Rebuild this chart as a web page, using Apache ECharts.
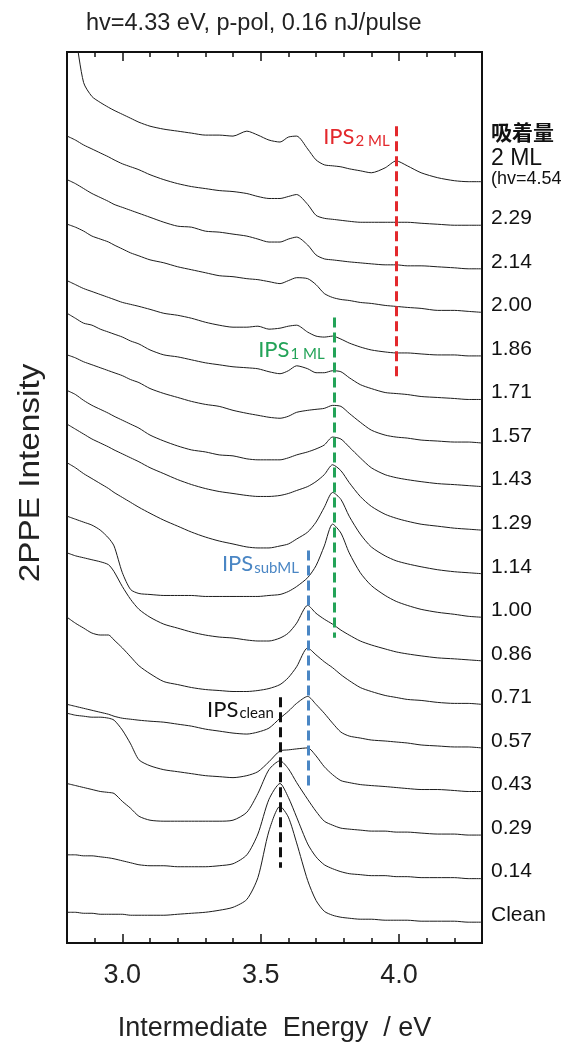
<!DOCTYPE html>
<html>
<head>
<meta charset="utf-8">
<script src="https://cdn.jsdelivr.net/npm/echarts@6/dist/echarts.min.js"></script>
<style>
  html, body { margin: 0; padding: 0; background: #fff; }
  #chart { width: 573px; height: 1047px; }
</style>
</head>
<body>
<div id="chart"></div>
<script>
// energy grid (eV), shared by every spectrum
var energy = [2.80, 2.83, 2.86, 2.89, 2.92, 2.95, 2.97, 3.00, 3.03, 3.06,
  3.10, 3.15, 3.20, 3.25, 3.30, 3.35, 3.40, 3.45, 3.49, 3.53,
  3.57, 3.60, 3.63, 3.67, 3.70, 3.73, 3.76, 3.79, 3.82, 3.86,
  3.90, 3.95, 3.99, 4.03, 4.08, 4.14, 4.20, 4.25, 4.30];

// coverage labels, top to bottom
var coverage = ['2 ML', '2.29', '2.14', '2.00', '1.86', '1.71', '1.57', '1.43', '1.29',
  '1.14', '1.00', '0.86', '0.71', '0.57', '0.43', '0.29', '0.14', 'Clean'];

// 2PPE intensity of each spectrum above its own high-energy baseline
var s2ML = [200,150,100,86,80,75,72,68,64,60, 56,53,51,49,47,47,46,51,47,42, 40,45,46,33,22,17,16,15,13,11, 9,14,21,16,9,4,1,0,0];
var s229 = [90,86,81,77,73,69,66,62,59,56, 51,46,42,39,37,35,34,32,29,27, 27,29,31,21,10,7,6,5,4,3, 3,3,3,3,2,1,0,0,0];
var s214 = [90,86,81,76,72,68,65,62,59,56, 52,47,43,42,38,37,35,33,30,27, 27,30,32,24,14,10,9,8,7,6, 5,4,4,3,3,2,1,0,0];
var s200 = [89,86,82,77,74,71,68,64,60,57, 53,50,46,43,40,37,36,34,33,31, 29,32,35,34,28,19,15,13,12,10, 9,7,6,5,4,2,2,1,0];
var s186 = [76,72,68,65,62,59,57,54,52,50, 47,43,41,38,34,31,29,29,30,27, 28,30,31,24,20,19,20,17,13,9, 6,4,3,3,2,1,1,0,0];
var s171 = [87,82,77,75,71,68,66,63,59,56, 50,45,43,40,37,35,33,32,31,28, 26,29,34,31,27,27,29,28,22,15, 11,7,6,5,3,2,1,0,0];
var s157 = [89,86,82,79,76,73,71,68,64,61, 55,50,46,42,39,37,33,30,28,26, 25,27,31,33,34,35,38,37,30,21, 13,8,6,5,3,2,1,1,0];
var s143 = [97,93,87,82,78,74,71,67,63,59, 52,46,41,37,35,32,31,28,27,27, 27,29,32,35,38,42,50,48,40,29, 19,12,9,7,5,3,2,1,0];
var s129 = [107,102,97,92,88,84,81,77,73,69, 63,57,51,46,42,39,37,35,34,34, 35,37,40,44,49,56,66,60,48,34, 24,16,12,9,6,4,2,1,0];
var s114 = [112,107,101,96,91,86,82,77,72,67, 61,54,48,42,37,33,30,27,26,26, 28,30,35,42,52,67,82,75,58,40, 27,18,13,10,7,4,2,1,0];
var s100 = [102,99,96,93,88,80,72,45,28,24, 23,22,22,22,21,21,21,21,21,22, 23,26,31,40,52,72,94,85,65,45, 32,22,16,12,8,5,3,1,0];
var s086 = [109,106,104,102,100,97,90,75,62,52, 44,37,33,29,26,24,23,21,20,20, 23,28,38,56,48,42,37,31,26,20, 16,12,9,7,5,3,2,1,0];
var s071 = [88,82,77,72,70,70,65,57,48,39, 31,23,20,17,15,14,13,13,14,16, 20,27,38,57,50,43,37,30,24,17, 13,9,7,5,4,2,1,1,0];
var s057 = [44,42,40,38,36,34,32,30,29,28, 27,26,24,22,19,17,15,14,16,20, 30,37,45,52,44,35,25,16,12,10, 8,7,6,5,3,2,1,1,0];
var s043 = [79,77,76,75,75,74,72,62,48,32, 26,22,20,18,16,15,14,16,20,30, 41,42,43,44,36,25,17,11,9,7, 6,5,4,3,2,2,1,0,0];
var s029 = [52,50,48,46,44,43,42,34,27,19, 15,14,14,14,14,14,15,23,42,66, 75,67,53,36,24,14,10,7,6,5, 4,4,3,3,2,1,1,0,0];
var s014 = [24,24,23,23,22,21,20,18,16,14, 13,13,12,12,12,13,15,24,45,80, 96,82,62,35,22,14,10,7,5,4, 3,3,2,2,1,1,1,0,0];
var sClean = [10,10,9,9,8,8,8,8,7,7, 7,7,8,9,10,12,15,23,45,92, 117,106,80,42,22,11,7,5,4,3, 3,2,2,2,1,1,1,0,0];

var traces = [s2ML, s229, s214, s200, s186, s171, s157, s143, s129,
  s114, s100, s086, s071, s057, s043, s029, s014, sClean];

// image-potential-state guides: energy and the vertical span they cover
var ipsName = ['2 ML', '1 ML', 'subML', 'clean'];
var ipsEnergy = [3.99, 3.765, 3.672, 3.572];
var ipsFrom = [824, 631, 396, 248];
var ipsTo = [569, 308, 159, 76];
var ipsLabelAt = [[3.846, 813], [3.611, 598], [3.499, 382], [3.427, 235]];
var ipsColor = ['#e3282c', '#23a358', '#4a86c4', '#111111'];

var stackStep = 43.95;   // vertical shift between neighbouring spectra
var stackBase = 21;

var chart = echarts.init(document.getElementById('chart'));

var series = traces.map(function (vals, k) {
  var shift = stackBase + stackStep * (traces.length - 1 - k);
  var endLabel = {
    show: true,
    formatter: '{a}',
    color: '#111',
    fontSize: 21,
    fontFamily: 'Liberation Sans, Arial, sans-serif',
    distance: 9,
    offset: [0, -7]
  };
  if (k === 0) {
    endLabel = {
      show: true,
      distance: 9,
      offset: [0, -30],
      formatter: '{c|吸着量}\n{a|2 ML}\n{b|(hv=4.54}',
      rich: {
        c: { fontSize: 21, fontWeight: 'bold', color: '#111', lineHeight: 30,
             fontFamily: 'Noto Sans CJK JP, sans-serif' },
        a: { fontSize: 23, color: '#111', lineHeight: 24,
             fontFamily: 'Liberation Sans, Arial, sans-serif' },
        b: { fontSize: 18, color: '#111', lineHeight: 16,
             fontFamily: 'Liberation Sans, Arial, sans-serif' }
      }
    };
  }
  return {
    name: coverage[k],
    type: 'line',
    symbol: 'none',
    silent: true,
    clip: true,
    smooth: 0.25,
    lineStyle: { color: '#1c1c1c', width: 1 },
    data: energy.map(function (e, j) { return [e, shift + vals[j]]; }),
    endLabel: endLabel
  };
});

series.push({
  name: 'IPS',
  type: 'line',
  data: [],
  silent: true,
  markLine: {
    symbol: 'none',
    silent: true,
    label: { show: false },
    data: ipsEnergy.map(function (e, i) {
      return [
        { coord: [e, ipsFrom[i]],
          lineStyle: { color: ipsColor[i], type: [10, 5], width: 3 } },
        { coord: [e, ipsTo[i]] }
      ];
    })
  },
  markPoint: {
    symbol: 'rect',
    symbolSize: 1,
    itemStyle: { color: 'rgba(0,0,0,0)' },
    silent: true,
    data: ipsLabelAt.map(function (p, i) {
      return {
        coord: p,
        label: {
          show: true,
          position: 'inside',
          formatter: '{m|IPS}{s|' + ipsName[i] + '}',
          rich: {
            m: { fontSize: 22, lineHeight: 22, verticalAlign: 'top', color: ipsColor[i],
                 fontFamily: 'Lato, Open Sans, sans-serif' },
            s: { fontSize: 15, lineHeight: 15, verticalAlign: 'bottom', padding: [13, 0, 0, 1],
                 color: ipsColor[i], fontFamily: 'Lato, Open Sans, sans-serif' }
          }
        }
      };
    })
  }
});

function tickAxis(pos, major) {
  var ax = {
    type: 'value', min: 2.8, max: 4.3, position: pos,
    axisLine: { show: false },
    splitLine: { show: false },
    axisLabel: { show: false },
    axisTick: { show: true, inside: true, length: major ? 9 : 5,
                lineStyle: { color: '#111', width: 1.5 } }
  };
  if (major) {
    ax.axisTick.customValues = [3.0, 3.5, 4.0];
  } else {
    ax.interval = 0.1;
  }
  return ax;
}

var xMain = tickAxis('bottom', true);
xMain.axisLabel = {
  show: true, customValues: [3.0, 3.5, 4.0], margin: 19,
  formatter: function (v) { return v.toFixed(1); },
  fontSize: 27, color: '#222', fontFamily: 'Liberation Sans, Arial, sans-serif'
};
xMain.name = 'Intermediate  Energy  / eV';
xMain.nameLocation = 'middle';
xMain.nameGap = 72;
xMain.nameTextStyle = { fontSize: 27, color: '#222', fontFamily: 'Liberation Sans, Arial, sans-serif' };

var option = {
  animation: false,
  backgroundColor: '#fff',
  title: {
    text: 'hv=4.33 eV, p-pol, 0.16 nJ/pulse',
    left: 81, top: 7,
    textStyle: { fontSize: 23.5, fontWeight: 'normal', color: '#222',
                 fontFamily: 'Liberation Sans, Arial, sans-serif' }
  },
  grid: { left: 67, right: 91, top: 52, bottom: 96, show: true,
          borderColor: '#111', borderWidth: 2 },
  xAxis: [xMain, tickAxis('bottom', false), tickAxis('top', true), tickAxis('top', false)],
  yAxis: { type: 'value', min: 0, max: 899, show: false },
  graphic: [{
    type: 'text', x: 31, y: 473, rotation: Math.PI / 2, scaleX: 1.15,
    style: { text: '2PPE Intensity', fontSize: 29, fill: '#222', align: 'center',
             verticalAlign: 'middle', fontFamily: 'Liberation Sans, Arial, sans-serif' }
  }],
  series: series
};
chart.setOption(option);
</script>
</body>
</html>
